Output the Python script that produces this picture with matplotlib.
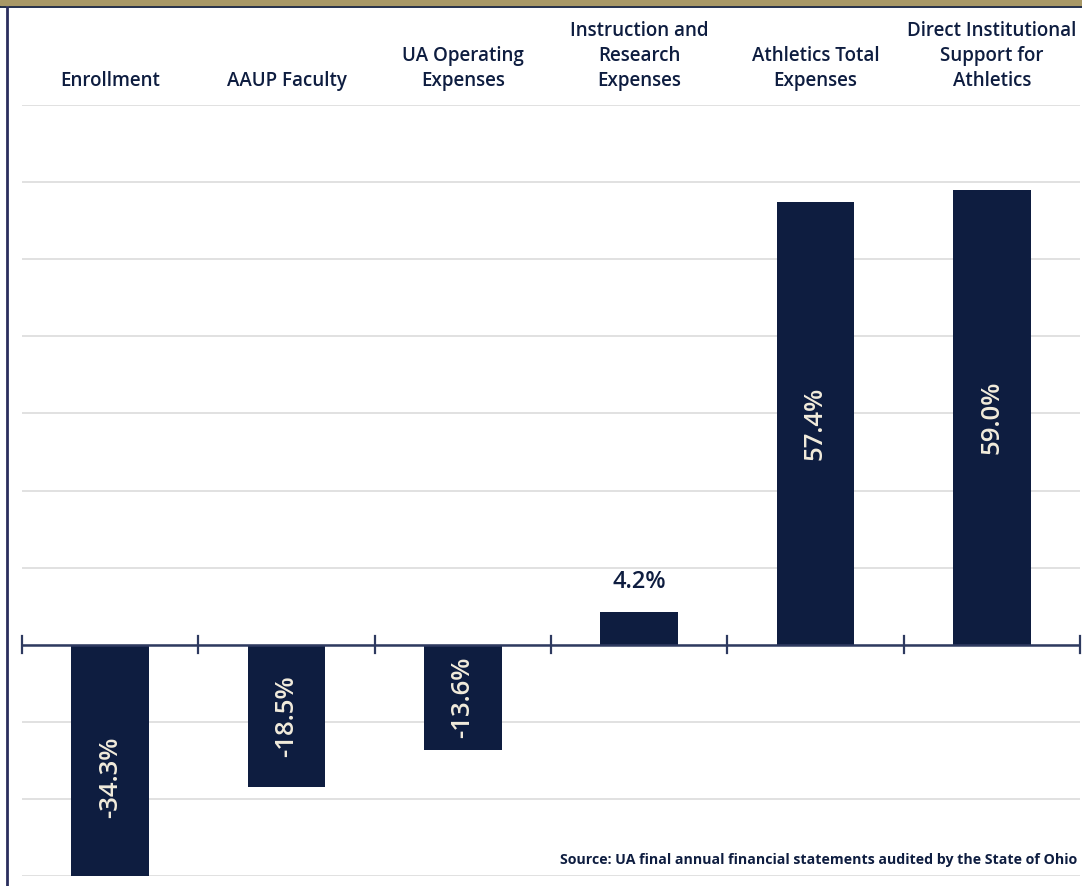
import matplotlib.pyplot as plt
from matplotlib.patches import Rectangle
from matplotlib.lines import Line2D

categories = ['Enrollment', 'AAUP Faculty', 'UA Operating\nExpenses',
              'Instruction and\nResearch\nExpenses', 'Athletics Total\nExpenses',
              'Direct Institutional\nSupport for\nAthletics']
changes = [-34.3, -18.5, -13.6, 4.2, 57.4, 59.0]
value_labels = ['-34.3%', '-18.5%', '-13.6%', '4.2%', '57.4%', '59.0%']
source_note = 'Source: UA final annual financial statements audited by the State of Ohio'

navy = '#0e1d40'
gold = '#a89866'
cream = '#f2ecdc'

plt.rcParams['font.family'] = ['Open Sans', 'DejaVu Sans']

W, H = 1082, 886
fig = plt.figure(figsize=(W / 100, H / 100), dpi=100)

# axes placed in pixel terms: x 22..1080, y 105..876
ax = fig.add_axes([22 / W, (H - 876) / H, (1080 - 22) / W, (876 - 105) / H])
x = list(range(len(categories)))
ax.bar(x, changes, width=0.44, color=navy, zorder=3)
ax.set_xlim(-0.5, len(categories) - 0.5)
ax.set_ylim(-30, 70)
ax.set_yticks(range(-30, 71, 10))
ax.yaxis.grid(True, color='#dcdcdc', linewidth=1.2, zorder=0)
ax.tick_params(left=False, labelleft=False, bottom=False, labelbottom=False)
for s in ax.spines.values():
    s.set_visible(False)

# zero axis with ticks between categories
ax.axhline(0, color='#2e3a60', linewidth=1.8, zorder=4)
for b in [i - 0.5 for i in range(len(categories) + 1)]:
    ax.plot([b, b], [-1.1, 1.1], color='#2e3a60', linewidth=1.6, zorder=4,
            clip_on=False)

for i, (v, lab) in enumerate(zip(changes, value_labels)):
    if abs(v) < 8:
        ax.text(i, v + 2.4, lab, ha='center', va='bottom', color=navy,
                fontsize=17, fontweight='semibold')
    else:
        ax.text(i, v / 2, lab, ha='center', va='center', rotation=90,
                color=cream, fontsize=18.5, fontweight='semibold', zorder=5)

# category headers above the plot
for i, c in enumerate(categories):
    ax.text(i, 71.8, c, ha='center', va='bottom', color=navy, fontsize=13.5,
            fontweight='semibold', linespacing=1.35)

fig.text(1077 / W, 1 - 860 / H, source_note, ha='right', va='center',
         color=navy, fontsize=10.2, fontweight='bold')

# frame decoration: gold top band and navy left rule
fig.patches.append(Rectangle((0, 1 - 5 / H), 1, 5 / H, transform=fig.transFigure,
                             color=gold, zorder=10))
fig.lines.append(Line2D([0, 1], [1 - 6 / H, 1 - 6 / H], transform=fig.transFigure,
                        color=navy, linewidth=2))
fig.lines.append(Line2D([7 / W, 7 / W], [0, 1 - 6 / H], transform=fig.transFigure,
                        color='#2b2f5e', linewidth=2))

fig.savefig('out.png', dpi=100)
